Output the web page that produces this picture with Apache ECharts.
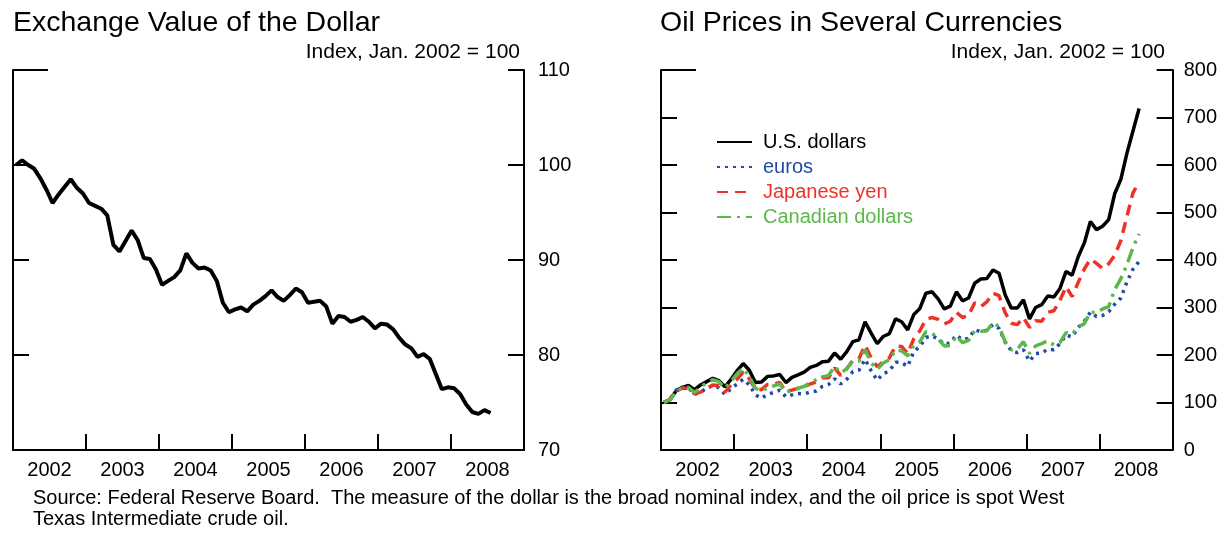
<!DOCTYPE html>
<html><head><meta charset="utf-8">
<script src="https://cdn.jsdelivr.net/npm/echarts@6.0.0/dist/echarts.min.js"></script>
<style>html,body{margin:0;padding:0;background:#fff}#c{width:1220px;height:533px}</style>
</head><body><div id="c"></div>
<script>
// ---- data (monthly, Jan 2002 = index 0) ----
const years = ['2002','2003','2004','2005','2006','2007','2008'];
const dollarTicks = [70, 80, 90, 100, 110];
const oilTicks = [0, 100, 200, 300, 400, 500, 600, 700, 800];
const dollarIndex = [
 100.0,100.5,100.0,99.6,98.6,97.4,96.0,96.9,97.7,98.5,97.6,97.0,
 96.0,95.7,95.4,94.7,91.6,90.9,92.0,93.1,92.1,90.2,90.1,89.0,
 87.4,87.8,88.2,88.9,90.7,89.7,89.1,89.2,88.9,87.8,85.5,84.5,
 84.8,85.0,84.6,85.3,85.7,86.2,86.8,86.1,85.7,86.3,87.0,86.6,
 85.5,85.6,85.7,85.1,83.3,84.1,84.0,83.5,83.7,84.0,83.5,82.8,
 83.3,83.2,82.7,81.8,81.1,80.7,79.8,80.1,79.6,78.0,76.4,76.6,
 76.5,75.9,74.8,74.0,73.8,74.2,73.9];
const usDollars = [
 100,106,125,132,136,127,137,144,151,146,133,149,
 167,182,168,142,143,155,156,159,142,153,158,164,
 174,178,186,187,204,191,207,228,232,270,246,224,
 239,245,276,270,253,285,298,330,333,318,297,303,
 333,314,320,351,360,361,379,372,327,299,299,316,
 276,300,306,324,322,340,376,368,407,436,481,464,
 471,485,540,570,625,672,719];
const euros = [
 100,108,126,132,131,117,122,130,136,131,117,129,
 139,149,137,116,109,117,121,126,112,116,119,118,
 122,124,134,138,150,139,149,165,168,191,167,147,
 161,166,185,184,176,207,218,237,240,234,222,226,
 242,232,235,253,249,252,264,256,227,209,205,211,
 187,203,204,212,211,224,242,238,258,271,290,281,
 283,291,307,320,354,381,397];
const japaneseYen = [
 100,107,124,130,130,118,122,129,137,136,122,137,
 149,164,150,128,127,138,139,142,123,126,130,133,
 139,143,152,152,173,157,171,189,192,221,194,175,
 186,194,219,218,203,234,251,275,279,275,265,271,
 290,279,283,310,302,312,330,325,289,267,264,279,
 258,272,271,290,293,315,344,323,353,381,402,393,
 382,392,410,441,492,542,563];
const canadianDollars = [
 100,106,124,130,132,121,132,142,148,144,130,145,
 161,172,155,130,124,131,135,139,121,126,130,134,
 141,148,154,157,176,162,171,187,187,211,184,170,
 183,190,210,209,198,221,228,249,246,234,219,220,
 240,226,231,251,250,251,268,260,228,211,212,228,
 203,219,224,230,221,226,247,244,259,266,290,289,
 297,302,338,361,390,427,455];

const FF = '"Liberation Sans", Arial, Helvetica, sans-serif';
const toXY = arr => arr.map((v, i) => [i + 0.5, v]);
const monthsSpan = years.length * 12;

function valueX(g){
  return {type:'value', gridIndex:g, min:0, max:monthsSpan, interval:12, position:'bottom',
    axisLine:{show:true,onZero:false,lineStyle:{color:'#000',width:2}},
    axisTick:{show:true,inside:true,length:16,lineStyle:{color:'#000',width:2}},
    axisLabel:{show:false}, splitLine:{show:false}};
}
function yearX(g){
  return {type:'category', gridIndex:g, data:years, position:'bottom', boundaryGap:true,
    axisLine:{show:false,onZero:false}, axisTick:{show:false},
    axisLabel:{color:'#000',fontSize:20,fontFamily:FF,margin:10}, splitLine:{show:false}};
}
function rightY(g, ticks, margin){
  const mn = ticks[0], mx = ticks[ticks.length-1];
  return {type:'value', gridIndex:g, position:'right', min:mn, max:mx, interval:ticks[1]-ticks[0],
    axisLine:{show:true,onZero:false,lineStyle:{color:'#000',width:2}},
    axisTick:{show:true,inside:true,length:16,lineStyle:{color:'#000',width:2}},
    axisLabel:{color:'#000',fontSize:20,fontFamily:FF,margin:margin}, splitLine:{show:false}};
}
function leftY(g, ticks){
  const mn = ticks[0], mx = ticks[ticks.length-1];
  return {type:'value', gridIndex:g, position:'left', min:mn, max:mx, interval:ticks[1]-ticks[0],
    axisLine:{show:true,onZero:false,lineStyle:{color:'#000',width:2}},
    axisTick:{show:true,inside:true,length:16,lineStyle:{color:'#000',width:2}},
    axisLabel:{show:false}, splitLine:{show:false}};
}
function stubY(g, ticks){
  const mn = ticks[0], mx = ticks[ticks.length-1];
  return {type:'value', gridIndex:g, position:'left', min:mn, max:mx, interval:mx-mn,
    axisLine:{show:false,onZero:false},
    axisTick:{show:true,inside:true,length:35,lineStyle:{color:'#000',width:2}},
    axisLabel:{show:false}, splitLine:{show:false}};
}

const chart = echarts.init(document.getElementById('c'), null, {renderer:'canvas'});
const baseLine = {type:'line', showSymbol:false, symbol:'none', animation:false, silent:true};

chart.setOption({
  backgroundColor:'#fff',
  animation:false,
  title:[
    {text:'Exchange Value of the Dollar', left:8, top:4, textStyle:{fontSize:28.5,fontWeight:'normal',color:'#000',fontFamily:FF}},
    {text:'Index, Jan. 2002 = 100', right:695, top:37, textStyle:{fontSize:21,fontWeight:'normal',color:'#000',fontFamily:FF}},
    {text:'Oil Prices in Several Currencies', left:655, top:4, textStyle:{fontSize:28.5,fontWeight:'normal',color:'#000',fontFamily:FF}},
    {text:'Index, Jan. 2002 = 100', right:50, top:37, textStyle:{fontSize:21,fontWeight:'normal',color:'#000',fontFamily:FF}},
    {text:'Source: Federal Reserve Board.  The measure of the dollar is the broad nominal index, and the oil price is spot West\nTexas Intermediate crude oil.',
     left:28, top:483, textStyle:{fontSize:20,fontWeight:'normal',color:'#000',fontFamily:FF,lineHeight:21}}
  ],
  grid:[
    {left:13, top:70, width:511, height:380},
    {left:661, top:70, width:514, height:380}
  ],
  legend:{
    orient:'vertical', left:711, top:127, itemWidth:35, itemHeight:20, itemGap:5,
    itemStyle:{opacity:0},
    textStyle:{fontSize:20,fontFamily:FF,padding:[0,0,0,6]},
    data:[
      {name:'U.S. dollars', textStyle:{color:'#000'}},
      {name:'euros', textStyle:{color:'#1f4aa8'}},
      {name:'Japanese yen', textStyle:{color:'#ee3326'}},
      {name:'Canadian dollars', textStyle:{color:'#5cb84a'}}
    ]
  },
  xAxis:[valueX(0), yearX(0), valueX(1), yearX(1)],
  yAxis:[rightY(0, dollarTicks, 14), leftY(0, dollarTicks), stubY(0, dollarTicks),
         rightY(1, oilTicks, 11), leftY(1, oilTicks), stubY(1, oilTicks)],
  series:[
    Object.assign({}, baseLine, {name:'Broad dollar', xAxisIndex:0, yAxisIndex:0, data:toXY(dollarIndex),
      lineStyle:{color:'#000',width:4}, itemStyle:{color:'#000'}}),
    Object.assign({}, baseLine, {name:'U.S. dollars', xAxisIndex:2, yAxisIndex:3, data:toXY(usDollars),
      lineStyle:{color:'#000',width:3.5}, itemStyle:{color:'#000'}}),
    Object.assign({}, baseLine, {name:'euros', xAxisIndex:2, yAxisIndex:3, data:toXY(euros),
      lineStyle:{color:'#1f4aa8',width:3.5,type:[3,5]}, itemStyle:{color:'#1f4aa8'}}),
    Object.assign({}, baseLine, {name:'Japanese yen', xAxisIndex:2, yAxisIndex:3, data:toXY(japaneseYen),
      lineStyle:{color:'#ee3326',width:3.5,type:[11,7]}, itemStyle:{color:'#ee3326'}}),
    Object.assign({}, baseLine, {name:'Canadian dollars', xAxisIndex:2, yAxisIndex:3, data:toXY(canadianDollars),
      lineStyle:{color:'#5cb84a',width:3.5,type:[14,6,3,6]}, itemStyle:{color:'#5cb84a'}})
  ]
});
</script></body></html>
